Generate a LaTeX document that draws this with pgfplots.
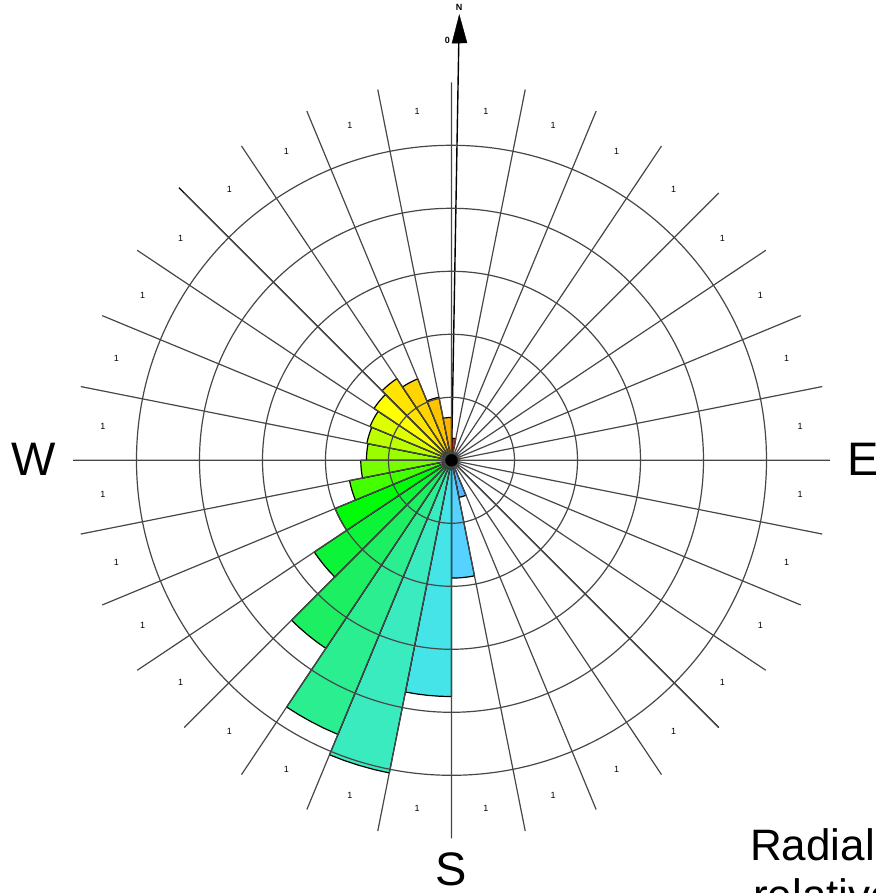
\documentclass[border=0pt]{standalone}
\usepackage{fontspec}
\setmainfont{Liberation Sans}
\usepackage{pgfplots}
\pgfplotsset{compat=1.18}
\usepgfplotslibrary{polar}

\definecolor{cN}{HTML}{FF2010}
\definecolor{cA}{HTML}{55B8FF}
\definecolor{cB}{HTML}{55D2FF}
\definecolor{cC}{HTML}{45E4E8}
\definecolor{cD}{HTML}{3BEBC0}
\definecolor{cE}{HTML}{2AEE90}
\definecolor{cF}{HTML}{1CF062}
\definecolor{cG}{HTML}{0CF438}
\definecolor{cH}{HTML}{00FC08}
\definecolor{cI}{HTML}{44FF00}
\definecolor{cJ}{HTML}{77FF00}
\definecolor{cK}{HTML}{99FF00}
\definecolor{cL}{HTML}{BBFF00}
\definecolor{cM}{HTML}{DDFF00}
\definecolor{cO}{HTML}{FFFF00}
\definecolor{cP}{HTML}{FFE400}
\definecolor{cQ}{HTML}{FFD400}
\definecolor{cR}{HTML}{FFC400}
\definecolor{cS}{HTML}{FFB400}

% #1 compass start angle (deg, clockwise from N), #2 radius, #3 colour
\newcommand{\sector}[3]{%
  \pgfmathsetmacro\pa{90-#1}%
  \pgfmathsetmacro\pb{90-#1-2.8125}%
  \pgfmathsetmacro\pc{90-#1-5.625}%
  \pgfmathsetmacro\pd{90-#1-8.4375}%
  \pgfmathsetmacro\pe{90-#1-11.25}%
  \addplot[fill=#3, draw=black, line width=1.2pt, line join=round]
    coordinates {(0,0) (\pa,#2) (\pb,#2) (\pc,#2) (\pd,#2) (\pe,#2) (0,0)} -- cycle;
}

\begin{document}
\begin{tikzpicture}[x=1pt,y=1pt]
\useasboundingbox (-451.5,-432.7) rectangle (423.5,460.3);
\begin{polaraxis}[
  at={(0,0)}, anchor=center,
  scale only axis, width=756pt, height=756pt,
  xmin=0, xmax=360, ymin=0, ymax=6,
  xtick={0,11.25,22.5,33.75,45,56.25,67.5,78.75,90,101.25,112.5,123.75,135,146.25,157.5,168.75,180,191.25,202.5,213.75,225,236.25,247.5,258.75,270,281.25,292.5,303.75,315,326.25,337.5,348.75},
  ytick={1,2,3,4,5},
  xticklabel=\empty, yticklabel=\empty,
  grid=major,
  major grid style={draw=black!72, line width=1.2pt},
  axis line style={draw=none},
  major tick length=0pt,
  clip=false,
  axis on top,
]
\sector{0}{0.35}{cN}
\sector{157.5}{0.60}{cA}
\sector{168.75}{1.87}{cB}
\sector{180}{3.75}{cC}
\sector{191.25}{5.06}{cD}
\sector{202.5}{4.71}{cE}
\sector{213.75}{3.59}{cF}
\sector{225}{2.62}{cG}
\sector{236.25}{2.00}{cH}
\sector{247.5}{1.65}{cI}
\sector{258.75}{1.44}{cJ}
\sector{270}{1.35}{cK}
\sector{281.25}{1.37}{cL}
\sector{292.5}{1.40}{cM}
\sector{303.75}{1.48}{cO}
\sector{315}{1.56}{cP}
\sector{326.25}{1.40}{cQ}
\sector{337.5}{1.02}{cR}
\sector{348.75}{0.68}{cS}

% main black axes
\addplot[black, line width=1.3pt] coordinates {(180,6) (0,6)};
\addplot[black, line width=1.3pt] coordinates {(135,6.12) (315,6)};
% north arrow
\addplot[black, line width=1.4pt] coordinates {(0,0) (89.0,6.64)};
\addplot[fill=black, draw=black] coordinates {(89.0,7.07) (89.93,6.62) (87.87,6.63)} -- cycle;
% centre blob
\addplot[only marks, mark=*, mark size=6pt, black] coordinates {(0,0)};

\pgfplotsinvokeforeach{0,...,31}{%
  \node[font=\fontsize{9}{9}\selectfont] at (axis cs:{84.375-#1*11.25},5.56) {1};
}
\node[font=\fontsize{9}{9}\selectfont\bfseries] at (axis cs:89.05,7.19) {N};
\node[font=\fontsize{9}{9}\selectfont\bfseries] at (axis cs:90.55,6.67) {0};
\end{polaraxis}
\node[font=\fontsize{47}{50}\selectfont] at (-418,0.6) {W};
\node[font=\fontsize{47}{50}\selectfont, anchor=west, inner sep=0pt] at (395.5,0.6) {E};
\node[font=\fontsize{47}{50}\selectfont] at (0,-408.7) {S};
\node[font=\fontsize{44}{50}\selectfont, anchor=base west, inner sep=0pt, align=left] at (298.5,-399.7) {Radial axis:};
\node[font=\fontsize{44}{50}\selectfont, anchor=base west, inner sep=0pt] at (301.5,-449.7) {relative frequency};
\end{tikzpicture}
\end{document}
